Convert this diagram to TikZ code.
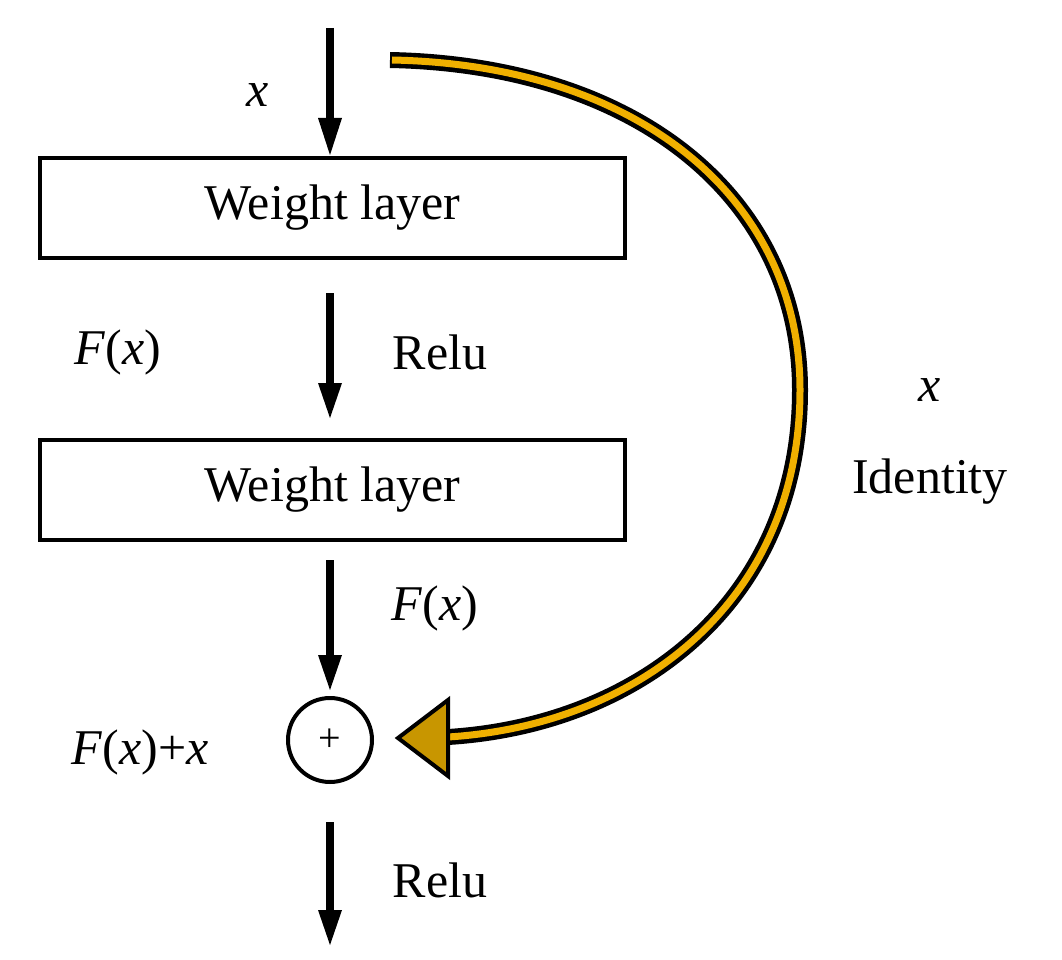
\documentclass[tikz,border=0pt]{standalone}
\usepackage{fontspec}
\setmainfont{Liberation Serif}
\begin{document}
\begin{tikzpicture}[x=1pt,y=-1pt,
  txt/.style={font=\fontsize{50}{56}\selectfont, inner sep=0pt},
  box/.style={draw, line width=4pt, minimum width=585pt, minimum height=100pt, txt},
  arr/.style={line width=8pt, -{Latex[length=32pt,width=26pt]}, shorten >=0pt}]
\usetikzlibrary{arrows.meta}
\useasboundingbox (0,0) rectangle (1062,960);
\coordinate (t0) at (330,28);
\coordinate (t1) at (330,155);
\draw[line width=8pt] (t0) -- (330,120);
\fill (318,118) -- (342,118) -- (t1) -- cycle;
\node[txt] at (258,95) {\textit{x}};
\node[box] (w1) at (332.5,208) {Weight layer};
\coordinate (a2) at (330,293);
\coordinate (b2) at (330,418);
\draw[line width=8pt] (a2) -- (330,385);
\fill (318,383) -- (342,383) -- (b2) -- cycle;
\node[txt] at (118,352) {\textit{F}(\textit{x})};
\node[txt] at (440,352) {Relu};
\node[box] (w2) at (332.5,490) {Weight layer};
\coordinate (a3) at (330,560);
\coordinate (b3) at (330,690);
\draw[line width=8pt] (a3) -- (330,657);
\fill (318,655) -- (342,655) -- (b3) -- cycle;
\node[txt] at (435,608) {\textit{F}(\textit{x})};
\node[draw, circle, line width=4pt, minimum size=84pt, inner sep=0pt, font=\fontsize{40}{40}\selectfont] (p) at (330,740) {+};
\node[txt] at (140,752) {\textit{F}(\textit{x})+\textit{x}};
\coordinate (a4) at (330,822);
\coordinate (b4) at (330,945);
\draw[line width=8pt] (a4) -- (330,912);
\fill (318,910) -- (342,910) -- (b4) -- cycle;
\node[txt] at (440,880) {Relu};
\node[txt] at (930,390) {\textit{x}};
\node[txt] (id) at (930,482) {Identity};
% identity curve
\def\curve{(390,60) .. controls (640,65) and (800,200) .. (800,390) .. controls (800,600) and (640,725) .. (448,737)}
\draw[line width=16pt] \curve;
\draw[line width=7pt, color={rgb,255:red,240;green,176;blue,0}] (392,60) .. controls (640,65) and (800,200) .. (800,390) .. controls (800,600) and (640,725) .. (448,737);
\draw[line width=4pt, fill={rgb,255:red,200;green,150;blue,0}, line join=miter] (448,700) -- (448,776) -- (398,738) -- cycle;
\end{tikzpicture}
\end{document}
